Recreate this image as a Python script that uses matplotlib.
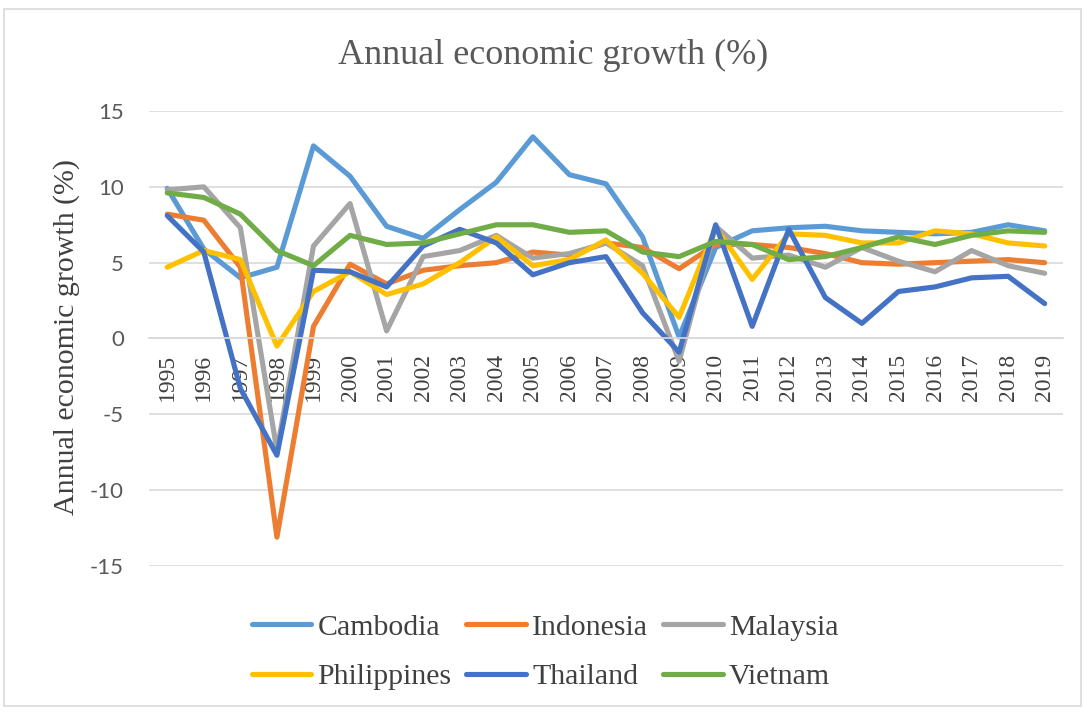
import matplotlib.pyplot as plt
from matplotlib.patches import Rectangle

plt.rcParams['axes.unicode_minus'] = False

# Annual GDP growth (%)
years = [str(y) for y in range(1995, 2020)]

cambodia = [9.9, 5.9, 4.0, 4.7, 12.7, 10.7, 7.4, 6.6, 8.5, 10.3, 13.3, 10.8, 10.2,
            6.7, 0.1, 6.0, 7.1, 7.3, 7.4, 7.1, 7.0, 6.9, 7.0, 7.5, 7.1]
indonesia = [8.2, 7.8, 4.7, -13.1, 0.8, 4.9, 3.6, 4.5, 4.8, 5.0, 5.7, 5.5, 6.3,
             6.0, 4.6, 6.2, 6.2, 6.0, 5.6, 5.0, 4.9, 5.0, 5.1, 5.2, 5.0]
malaysia = [9.8, 10.0, 7.3, -7.4, 6.1, 8.9, 0.5, 5.4, 5.8, 6.8, 5.3, 5.6, 6.3,
            4.8, -1.5, 7.4, 5.3, 5.5, 4.7, 6.0, 5.1, 4.4, 5.8, 4.8, 4.3]
philippines = [4.7, 5.8, 5.2, -0.5, 3.1, 4.4, 2.9, 3.6, 5.0, 6.7, 4.8, 5.2, 6.5,
               4.3, 1.4, 7.3, 3.9, 6.9, 6.8, 6.3, 6.3, 7.1, 6.9, 6.3, 6.1]
thailand = [8.1, 5.7, -3.3, -7.7, 4.5, 4.4, 3.4, 6.1, 7.2, 6.3, 4.2, 5.0, 5.4,
            1.7, -0.9, 7.5, 0.8, 7.2, 2.7, 1.0, 3.1, 3.4, 4.0, 4.1, 2.3]
vietnam = [9.6, 9.3, 8.2, 5.8, 4.8, 6.8, 6.2, 6.3, 6.9, 7.5, 7.5, 7.0, 7.1,
           5.7, 5.4, 6.4, 6.2, 5.2, 5.4, 6.0, 6.7, 6.2, 6.8, 7.1, 7.0]

series = [
    ('Cambodia', cambodia, '#5B9BD5'),
    ('Indonesia', indonesia, '#ED7D31'),
    ('Malaysia', malaysia, '#A5A5A5'),
    ('Philippines', philippines, '#FFC000'),
    ('Thailand', thailand, '#4472C4'),
    ('Vietnam', vietnam, '#70AD47'),
]

serif = 'Liberation Serif'
text_col = '#404040'

fig = plt.figure(figsize=(10.85, 7.13), dpi=100)
ax = fig.add_axes([0.1373, 0.2062, 0.8424, 0.6381])

# axis crosses at zero (set before styling ticks, it resets them)
for s in ['top', 'right', 'left']:
    ax.spines[s].set_visible(False)
ax.spines['bottom'].set_position(('data', 0))
ax.spines['bottom'].set_color('#D9D9D9')
ax.spines['bottom'].set_linewidth(1.2)

x = list(range(len(years)))
handles = []
for name, vals, col in series:
    h, = ax.plot(x, vals, color=col, linewidth=3.7, label=name, solid_capstyle='round')
    handles.append(h)

ax.set_xlim(-0.5, len(years) - 0.5)
ax.set_ylim(-15, 15)
ax.set_yticks([-15, -10, -5, 0, 5, 10, 15])
ax.set_xticks(x)
ax.set_xticklabels(years)
ax.grid(axis='y', color='#D9D9D9', linewidth=1.2)
ax.set_axisbelow(True)
ax.tick_params(axis='x', length=0, pad=11, labelsize=17, labelrotation=90,
               labelcolor=text_col, labelfontfamily=serif)
ax.tick_params(axis='y', length=0, pad=18, labelsize=16,
               labelcolor='#595959', labelfontfamily='Lato')

ax.set_ylabel('Annual economic growth (%)', fontfamily=serif, fontsize=21.5, color=text_col)
ax.yaxis.set_label_coords(-0.0755, 0.503)

fig.text(553 / 1085, 1 - 55 / 713, 'Annual economic growth (%)', fontfamily=serif,
         fontsize=26, color='#595959', ha='center', va='center')

# legend fills row by row like the original: reorder for column-major filling
order = [0, 3, 1, 4, 2, 5]
leg = fig.legend([handles[i] for i in order], [series[i][0] for i in order],
                 loc='center', bbox_to_anchor=(545 / 1085, 1 - 652 / 713), ncol=3,
                 frameon=False, prop={'family': serif, 'size': 21.5},
                 handlelength=2.0, handletextpad=0.2, columnspacing=0.5,
                 labelspacing=0.75)
for t in leg.get_texts():
    t.set_color(text_col)

fig.patches.append(Rectangle((0.004, 0.01), 0.992, 0.978, transform=fig.transFigure,
                             fill=False, edgecolor='#D9D9D9', linewidth=1.2))

fig.savefig('out.png', dpi=100)
